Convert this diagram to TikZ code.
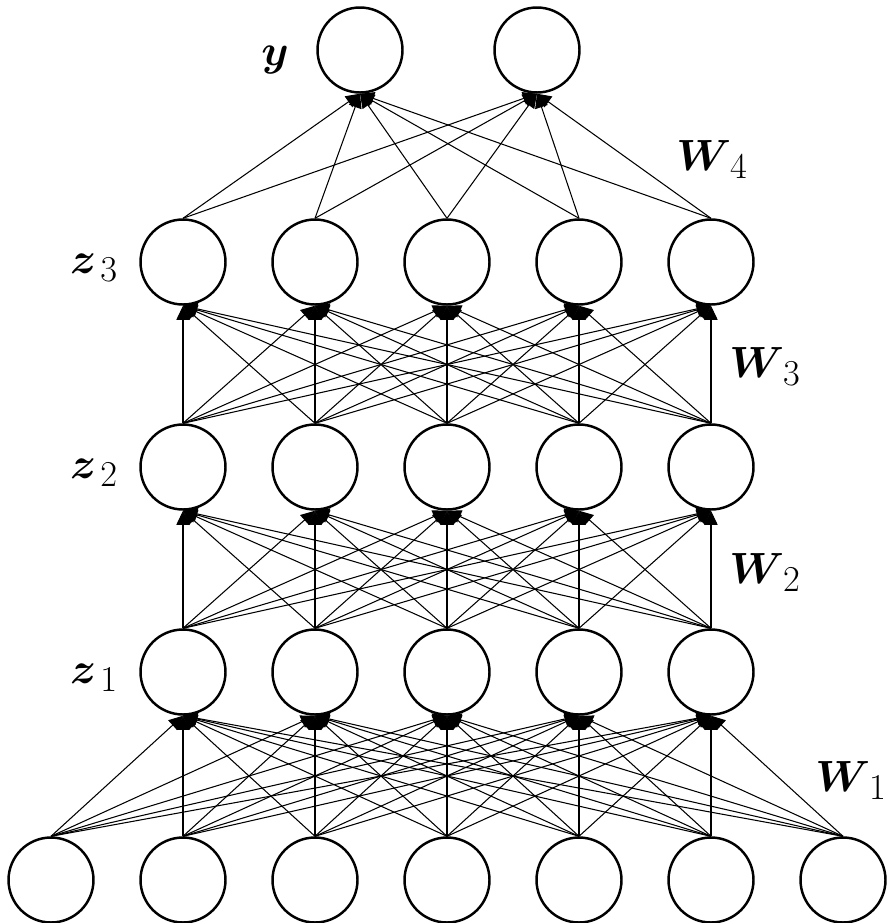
\documentclass[tikz,border=0pt]{standalone}
\usepackage{amsmath,bm}
\usetikzlibrary{arrows.meta}
\begin{document}
\begin{tikzpicture}[x=0.02cm,y=-0.02cm,
  neuron/.style={circle,draw,line width=1.4pt,minimum size=1.7cm,inner sep=0pt},
  conn/.style={line width=0.6pt,-{Triangle[length=8pt,width=7.5pt]}},
  lbl/.style={font=\Huge,anchor=base,inner sep=0pt}]
\useasboundingbox (0,0) rectangle (889,923);
% layers
\foreach \i/\x in {1/51,2/183,3/315,4/447,5/579,6/711,7/843}
  \node[neuron] (x\i) at (\x,880) {};
\foreach \i/\x in {1/183,2/315,3/447,4/579,5/711}{
  \node[neuron] (a\i) at (\x,672) {};
  \node[neuron] (b\i) at (\x,467) {};
  \node[neuron] (c\i) at (\x,262) {};
}
\node[neuron] (y1) at (360,50) {};
\node[neuron] (y2) at (537,50) {};
% connections
\foreach \i in {1,...,7}
  \foreach \j in {1,...,5}
    \draw[conn] (x\i.north) -- (a\j.south);
\foreach \i in {1,...,5}
  \foreach \j in {1,...,5}{
    \draw[conn] (a\i.north) -- (b\j.south);
    \draw[conn] (b\i.north) -- (c\j.south);
  }
\foreach \i in {1,...,5}
  \foreach \j in {1,2}
    \draw[conn] (c\i.north) -- (y\j.south);
% labels
\node[lbl] (ly) at (275,65) {$\bm{y}$};
\node[lbl] (lz3) at (94,273) {$\bm{z}_{\,3}$};
\node[lbl] (lz2) at (94,478) {$\bm{z}_{\,2}$};
\node[lbl] (lz1) at (94,683) {$\bm{z}_{\,1}$};
\node[lbl] (lw4) at (712,170) {$\bm{W}_{\,4}$};
\node[lbl] (lw3) at (765,377) {$\bm{W}_{\,3}$};
\node[lbl] (lw2) at (765,583) {$\bm{W}_{\,2}$};
\node[lbl] (lw1) at (851,791) {$\bm{W}_{\,1}$};
\end{tikzpicture}
\end{document}
